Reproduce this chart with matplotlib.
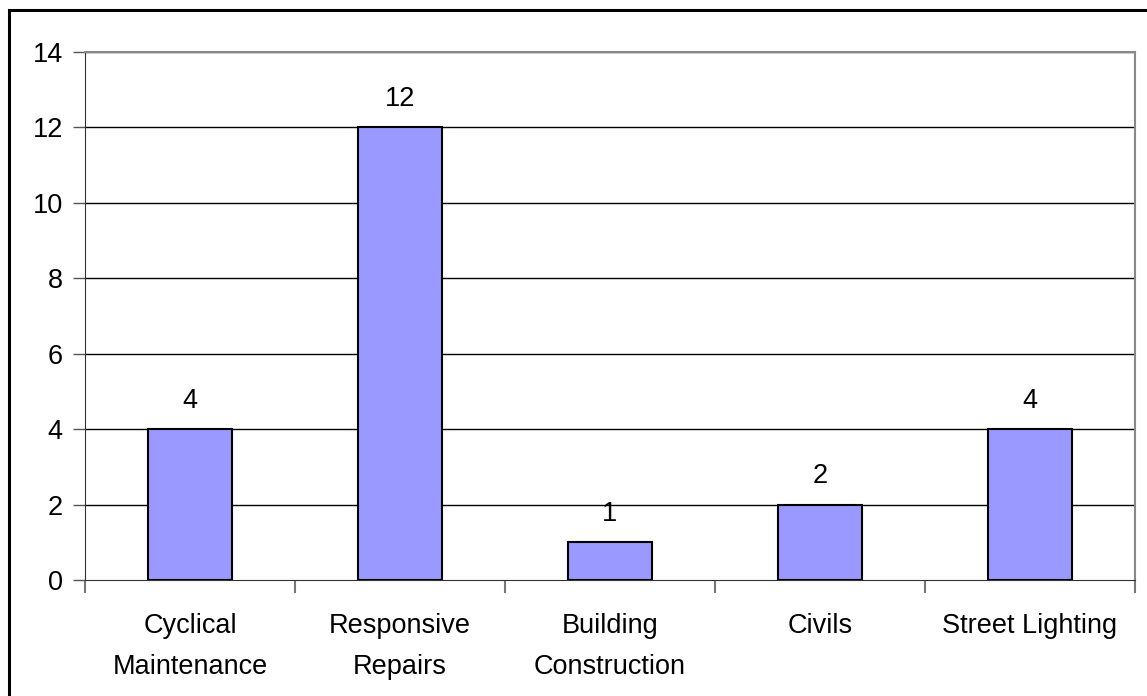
import matplotlib
matplotlib.use("Agg")
import matplotlib.pyplot as plt
from matplotlib.patches import Rectangle
import numpy as np

plt.rcParams["font.family"] = ["Liberation Sans", "DejaVu Sans"]

categories = ["Cyclical\nMaintenance", "Responsive\nRepairs", "Building\nConstruction",
              "Civils", "Street Lighting"]
values = [4, 12, 1, 2, 4]
y_ticks = [0, 2, 4, 6, 8, 10, 12, 14]

W, H = 1147, 696
FS = 19.5
fig = plt.figure(figsize=(W / 100, H / 100), dpi=100)

# outer chart border (only top/left visible in the original crop)
fig.patches.append(Rectangle((9 / W, -0.1), 1.2, (H - 10) / H + 0.1,
                             transform=fig.transFigure, fill=False,
                             edgecolor="black", linewidth=2.2))

left, right, top, bottom = 85, 1135, 52, 580
ax = fig.add_axes([left / W, 1 - bottom / H, (right - left) / W, (bottom - top) / H])

x = np.arange(len(categories))
ax.bar(x, values, width=0.4, color="#9999FF", edgecolor="black", linewidth=1.5, zorder=3)

ax.set_xlim(-0.5, len(categories) - 0.5)
ax.set_ylim(0, 14)
ax.set_yticks(y_ticks)
ax.tick_params(axis="y", labelsize=FS, length=9, width=1, color="#555555", pad=7)
for y in y_ticks[1:]:
    ax.axhline(y, color="black", lw=1, zorder=1)

ax.set_xticks(x)
ax.set_xticklabels(categories, fontsize=FS, linespacing=1.75)
ax.tick_params(axis="x", length=0, pad=24)
ax.set_xticks(np.arange(len(categories) + 1) - 0.5, minor=True)
ax.tick_params(axis="x", which="minor", length=9, width=1.5, color="#777777")

for side in ["top", "right"]:
    ax.spines[side].set_color("#888888")
    ax.spines[side].set_linewidth(1.5)
ax.spines["left"].set_color("#333333")
ax.spines["bottom"].set_color("#333333")

for xi, v in zip(x, values):
    ax.annotate(str(v), (xi, v), xytext=(0, 11), textcoords="offset points",
                ha="center", va="bottom", fontsize=FS)

fig.savefig("out.png", dpi=100)
